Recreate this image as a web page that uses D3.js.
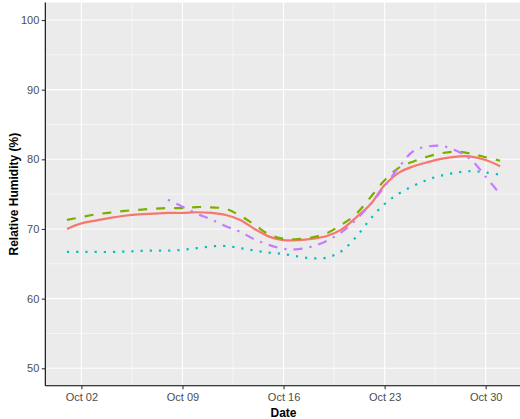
<!DOCTYPE html>
<html>
<head>
<meta charset="utf-8">
<script src="https://cdn.jsdelivr.net/npm/d3@7"></script>
<style>
  html, body { margin: 0; padding: 0; background: #fff; }
  svg { display: block; }
  text { font-family: "Liberation Sans", Arial, sans-serif; }
</style>
</head>
<body>
<svg id="chart" width="520" height="419"></svg>
<script>
// ---- Data (October, day of month) ----
const days = [1,2,3,4,5,6,7,8,9,10,11,12,13,14,15,16,17,18,19,20,21,22,23,24,25,26,27,28,29,30,31];
const seriesA = [70.0,70.8,71.2,71.6,71.9,72.1,72.2,72.3,72.3,72.4,72.3,72.0,71.3,70.0,68.9,68.4,68.4,68.6,69.0,69.9,71.6,73.5,76.3,78.1,79.0,79.6,80.1,80.4,80.4,79.9,79.0];
const seriesB = [71.3,71.7,72.1,72.35,72.6,72.75,72.9,73.0,73.0,73.15,73.1,72.9,71.9,70.6,69.2,68.6,68.55,68.8,69.4,70.6,72.1,74.5,77.0,78.8,79.7,80.4,80.9,81.1,80.8,80.3,79.8];
const seriesC = [66.7,66.7,66.7,66.7,66.75,66.85,66.9,66.9,67.0,67.25,67.5,67.55,67.25,66.9,66.6,66.4,66.05,65.8,65.9,66.8,68.8,71.4,73.6,75.1,76.2,77.1,77.7,78.1,78.3,78.1,77.8];
const daysD = [8,9,10,11,12,13,14,15,16,17,18,19,20,21,22,23,24,25,26,27,28,29,30,31];
const seriesD = [74.2,73.2,72.2,71.35,70.4,69.6,68.5,67.7,67.15,67.1,67.5,68.3,69.5,71.3,73.5,76.1,78.9,81.2,81.85,81.9,81.2,79.9,77.5,75.0];
const xTickDays = [2,9,16,23,30];
const yTicks = [50,60,70,80,90,100];

const svg = d3.select("#chart");
const day = d => new Date(Date.UTC(2023, 9, 1) + (d - 1) * 86400000);

const x = d3.scaleUtc()
  .domain([day(-0.5), day(32.5)])
  .range([45.3, 521.8]);
const y = d3.scaleLinear()
  .domain([47.5, 102.5])
  .range([385.7, 2.6]);

const pl = 45.3, pr = 521.8, pt = y(102.5), pb = y(47.5);

// panel
svg.append("rect").attr("x", pl).attr("y", pt).attr("width", pr - pl).attr("height", pb - pt).attr("fill", "#EBEBEB");

const g = svg.append("g");
// minor grid
const yMinor = [55,65,75,85,95];
const xMinor = [-1.5,5.5,12.5,19.5,26.5,33.5];
g.selectAll(".ymin").data(yMinor).enter().append("line")
  .attr("x1", pl).attr("x2", pr).attr("y1", d => y(d)).attr("y2", d => y(d))
  .attr("stroke", "#fff").attr("stroke-width", 0.55);
g.selectAll(".xmin").data(xMinor).enter().append("line")
  .attr("y1", pt).attr("y2", pb).attr("x1", d => x(day(d))).attr("x2", d => x(day(d)))
  .attr("stroke", "#fff").attr("stroke-width", 0.55);
// major grid
g.selectAll(".ymaj").data(yTicks).enter().append("line")
  .attr("x1", pl).attr("x2", pr).attr("y1", d => y(d)).attr("y2", d => y(d))
  .attr("stroke", "#fff").attr("stroke-width", 1.1);
g.selectAll(".xmaj").data(xTickDays).enter().append("line")
  .attr("y1", pt).attr("y2", pb).attr("x1", d => x(day(d))).attr("x2", d => x(day(d)))
  .attr("stroke", "#fff").attr("stroke-width", 1.1);

// lines
const line = d3.line().x(d => x(day(d[0]))).y(d => y(d[1])).curve(d3.curveCatmullRom.alpha(0.5));
const series = [
  { days: days, vals: seriesA, color: "#F8766D", dash: null },
  { days: days, vals: seriesB, color: "#7CAE00", dash: "9,9" },
  { days: days, vals: seriesC, color: "#00BFC4", dash: "2.2,7" },
  { days: daysD, vals: seriesD, color: "#C77CFF", dash: "2.3,6.9,9.2,6.9" }
];
series.forEach(s => {
  const p = svg.append("path")
    .datum(s.days.map((d, i) => [d, s.vals[i]]))
    .attr("d", line)
    .attr("fill", "none")
    .attr("stroke", s.color)
    .attr("stroke-width", 2.2);
  if (s.dash) p.attr("stroke-dasharray", s.dash);
});

// axes
const xAxis = d3.axisBottom(x)
  .tickValues(xTickDays.map(day))
  .tickFormat(d3.utcFormat("Oct %d"))
  .tickSize(3.5).tickPadding(4);
const yAxis = d3.axisLeft(y)
  .tickValues(yTicks)
  .tickSize(3.5).tickPadding(2.5);

const gx = svg.append("g").attr("transform", `translate(0,${pb})`).call(xAxis);
const gy = svg.append("g").attr("transform", `translate(${pl},0)`).call(yAxis);
[gx, gy].forEach(a => {
  a.select(".domain").attr("stroke", "#000").attr("stroke-width", 1.1);
  a.selectAll(".tick line").attr("stroke", "#333").attr("stroke-width", 1.1);
  a.selectAll(".tick text").attr("fill", "#4D4D4D").style("font-size", "11px")
    .style("font-family", "Liberation Sans, Arial, sans-serif");
});
gx.select(".domain").attr("d", `M${pl},0H${pr}`);
gy.select(".domain").attr("d", `M0,${pb}V${pt}`);

svg.append("text").attr("x", x(day(16))).attr("y", 416.5)
  .attr("text-anchor", "middle").attr("font-weight", "bold").attr("font-size", "12px")
  .text("Date");
svg.append("text").attr("transform", `translate(18,${(pt + pb) / 2}) rotate(-90)`)
  .attr("text-anchor", "middle").attr("font-weight", "bold").attr("font-size", "12px")
  .text("Relative Humidity (%)");
</script>
</body>
</html>
